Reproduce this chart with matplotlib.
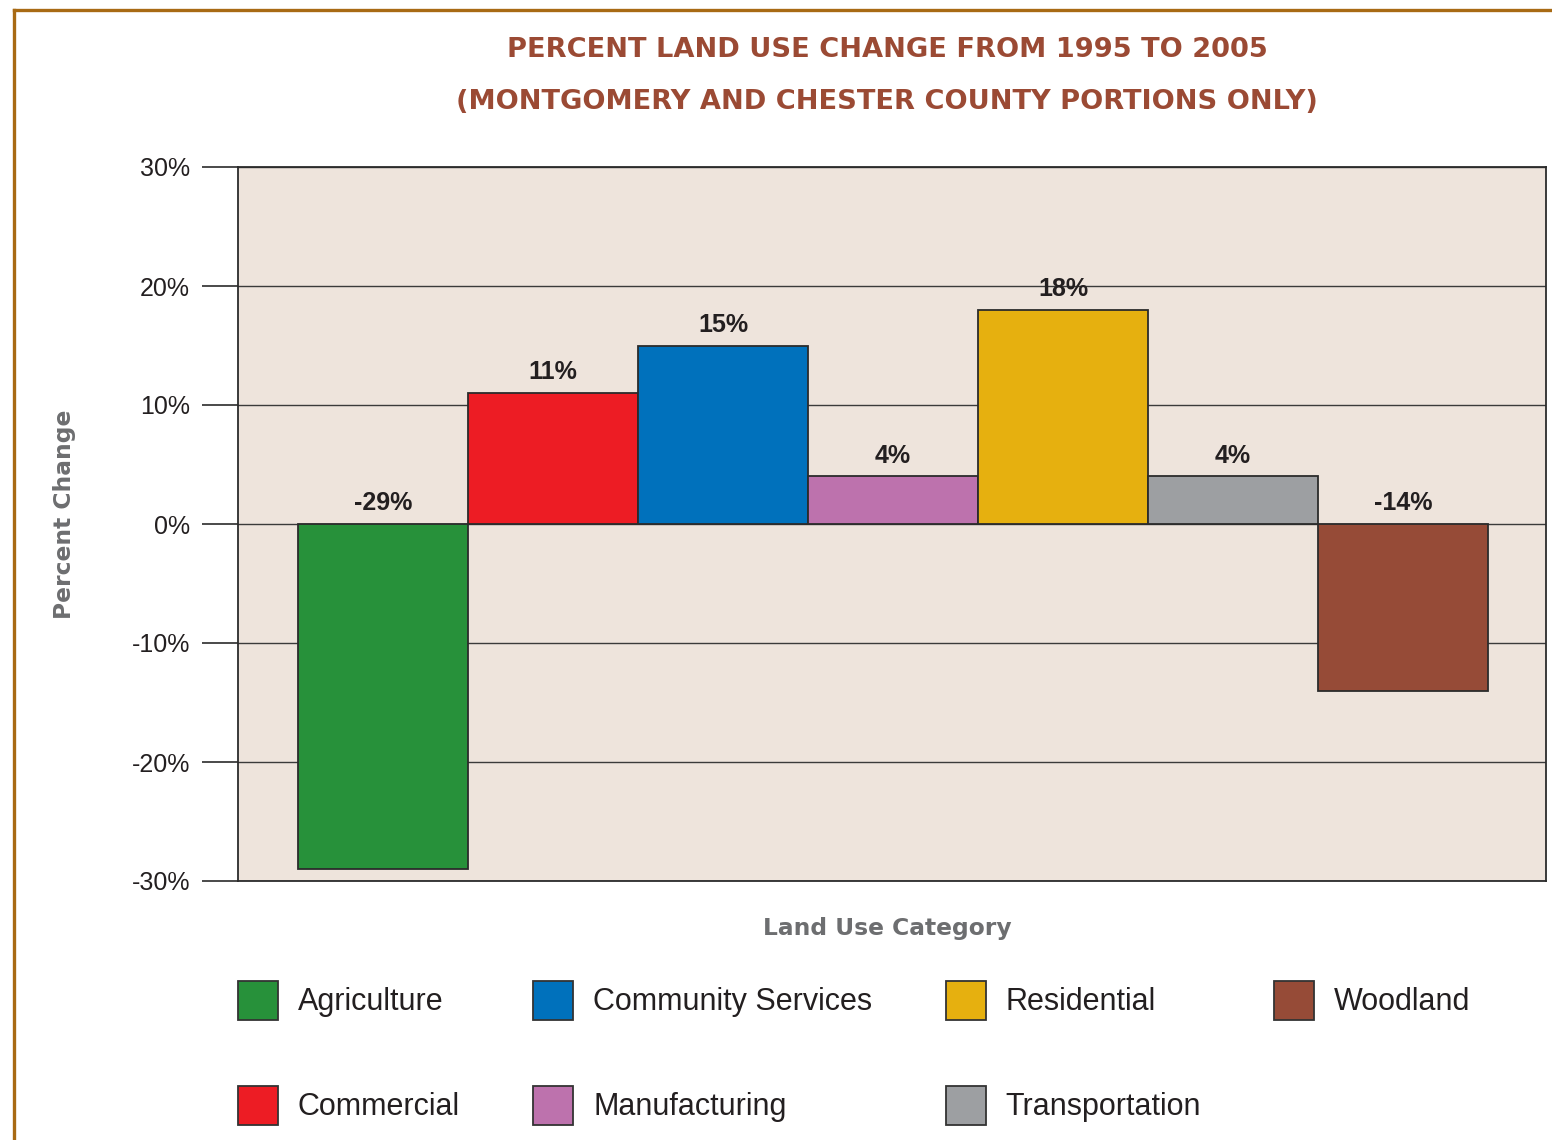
import matplotlib
matplotlib.use("Agg")
import matplotlib.pyplot as plt
from matplotlib.patches import Patch
from matplotlib.lines import Line2D
from matplotlib.ticker import FixedLocator, FuncFormatter

categories = ["Agriculture", "Commercial", "Community Services", "Manufacturing",
              "Residential", "Transportation", "Woodland"]
values = [-29, 11, 15, 4, 18, 4, -14]
value_labels = ["-29%", "11%", "15%", "4%", "18%", "4%", "-14%"]
yticks = [-30, -20, -10, 0, 10, 20, 30]
colors = ["#27913a", "#ed1c24", "#0071bc", "#bd72ad", "#e6b00f", "#9d9fa2", "#964b37"]

W, H = 1552, 1140
fig = plt.figure(figsize=(W / 100, H / 100), dpi=100)
fig.patch.set_facecolor("white")

cond = ["DejaVu Sans Condensed", "DejaVu Sans"]
plain = ["Liberation Sans", "DejaVu Sans"]

ax_l, ax_r, ax_t, ax_b = 238, 1546, 167, 881
ax = fig.add_axes([ax_l / W, 1 - ax_b / H, (ax_r - ax_l) / W, (ax_b - ax_t) / H])
ax.set_facecolor("#eee4dc")

x = list(range(len(categories)))
ax.bar(x, values, width=1.0, color=colors, edgecolor="#2b2b2b", linewidth=1.3, zorder=3)

ax.set_xlim(-0.853, 6.841)
ax.set_ylim(-30, 30)
ax.yaxis.set_major_locator(FixedLocator(yticks))
ax.yaxis.set_major_formatter(FuncFormatter(lambda v, p: f"{int(v)}%"))
ax.set_xticks([])
ax.grid(axis="y", color="#3a3a3a", linewidth=1.0, zorder=1)
ax.set_axisbelow(True)
ax.tick_params(axis="y", direction="out", length=26, width=1.2, color="#2b2b2b",
               pad=8.5, labelsize=18, labelcolor="#231f20")
for lab in ax.get_yticklabels():
    lab.set_family(plain)
for s in ax.spines.values():
    s.set_color("#2b2b2b")
    s.set_linewidth(1.3)

for xi, v, t in zip(x, values, value_labels):
    base = v if v > 0 else 0
    ax.annotate(t, (xi, base), xytext=(0, 10), textcoords="offset points",
                ha="center", va="baseline", fontsize=18, fontweight="bold",
                color="#231f20", family=plain, zorder=4)

title_color = "#9b4a34"
fig.text(887 / W, 1 - 50 / H, "PERCENT LAND USE CHANGE FROM 1995 TO 2005",
         ha="center", va="center", fontsize=19.6, fontweight="bold", color=title_color, family=cond)
fig.text(887 / W, 1 - 102 / H, "(MONTGOMERY AND CHESTER COUNTY PORTIONS ONLY)",
         ha="center", va="center", fontsize=19.6, fontweight="bold", color=title_color, family=cond)

fig.text(65 / W, 1 - 514 / H, "Percent Change", rotation=90, ha="center", va="center",
         fontsize=16.8, fontweight="bold", color="#6d6e70", family=cond)
fig.text(887 / W, 1 - 928 / H, "Land Use Category", ha="center", va="center",
         fontsize=16.8, fontweight="bold", color="#6d6e70", family=cond)

handles = [Patch(facecolor=c, edgecolor="#333333", linewidth=1.3) for c in colors]
leg = fig.legend(handles, categories, loc="upper left",
                 bbox_to_anchor=(238 / W, 1 - 981 / H), ncol=4, frameon=False,
                 handlelength=1.31, handleheight=1.58, handletextpad=0.65,
                 columnspacing=2.4, labelspacing=2.16, borderpad=0, borderaxespad=0,
                 prop={"family": plain, "size": 22})
for t in leg.get_texts():
    t.set_color("#231f20")

border_c = "#a86a14"
fig.add_artist(Line2D([14 / W, 1], [1 - 10 / H, 1 - 10 / H], transform=fig.transFigure,
                      color=border_c, linewidth=2.4))
fig.add_artist(Line2D([14 / W, 14 / W], [1 - 10 / H, 0], transform=fig.transFigure,
                      color=border_c, linewidth=2.4))

fig.savefig("out.png", dpi=100)
